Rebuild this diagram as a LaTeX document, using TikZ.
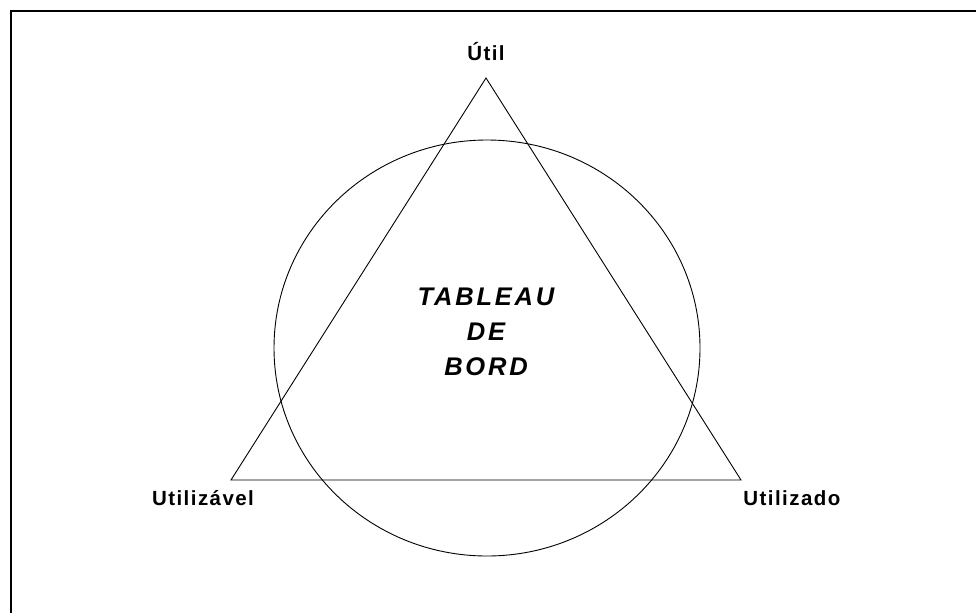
\documentclass[tikz,border=0pt]{standalone}
\usepackage{fontspec}
\setmainfont{Liberation Sans}
\usetikzlibrary{positioning}

\tikzset{
  vlabel/.style={font=\bfseries\fontsize{20.5}{24}\selectfont\addfontfeature{LetterSpace=7}, inner sep=0pt},
  title/.style={font=\bfseries\itshape\fontsize{25.5}{35}\selectfont\addfontfeature{LetterSpace=11}, align=center, inner sep=0pt}
}

\begin{document}
\begin{tikzpicture}[x=1pt,y=-1pt,line width=0.9pt]
        \useasboundingbox (0,0) rectangle (976,613);
        \draw[line width=2pt] (11,613) -- (11,11) -- (976,11);
        % vertices of the triangle
        \coordinate (util) at (486,78);
        \coordinate (utilizavel) at (231,480);
        \coordinate (utilizado) at (741,480);
        \draw (util) -- (utilizavel) -- (utilizado) -- cycle;
        \draw (487,348) ellipse [x radius=213, y radius=208];
        \node[vlabel, above=17pt of util] (lu) {Útil};
        \node[vlabel, below=10pt of utilizavel, xshift=-28pt] (lv) {Utilizável};
        \node[vlabel, below right=10pt and 2pt of utilizado] (lz) {Utilizado};
        \node[title] (tb) at (486,332) {TABLEAU\\DE\\BORD};
      \end{tikzpicture}
\end{document}
